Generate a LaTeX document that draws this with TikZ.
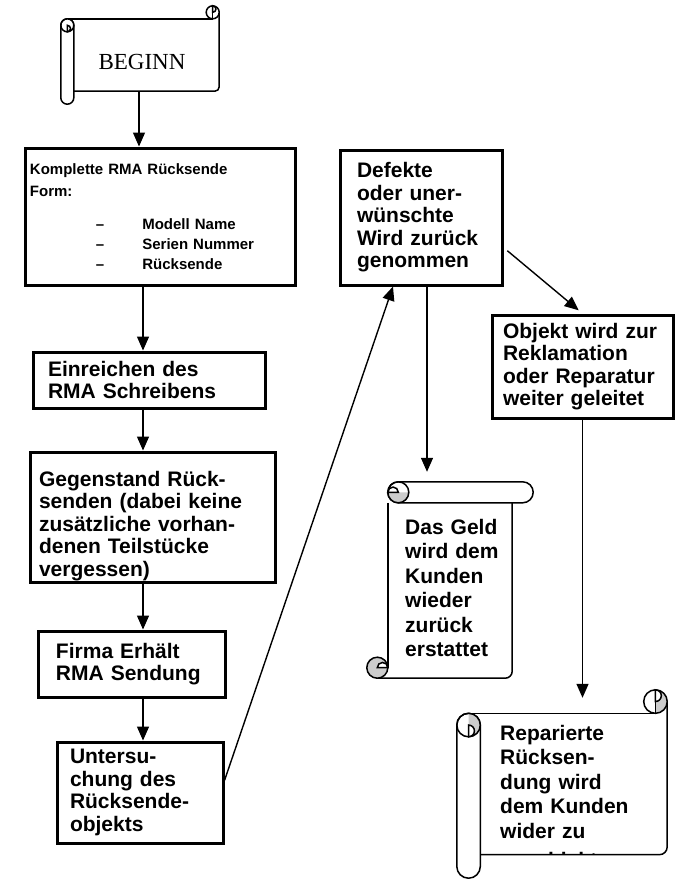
\documentclass[tikz,border=0pt]{standalone}
\usepackage{fontspec}
\setmainfont{Liberation Serif}
\setsansfont{Liberation Sans}
\usetikzlibrary{arrows.meta,calc}
\definecolor{curlgray}{HTML}{CCCCCC}

\tikzset{
  box/.style={draw, line width=3pt, rectangle, inner sep=0pt, align=left,
    font=\sffamily\bfseries\fontsize{21}{22.5}\selectfont},
  arr/.style={line width=1.4pt, -{Triangle[width=12pt,length=14pt]}},
  scrollbox/.style={rectangle, inner sep=0pt},
  scrollline/.style={line width=1.5pt},
  scrolltxt/.style={anchor=north west, inner sep=0pt, align=left,
    font=\sffamily\bfseries\fontsize{21}{24.4}\selectfont},
}

% scroll with a roll on the left and a curl top right
\newcommand{\hscroll}[3]{%
  \pgfmathsetmacro{\scC}{#2}
  \pgfmathsetmacro{\scH}{#2/2}
  \pgfmathsetmacro{\scQ}{#2/4}
  \pgfmathsetmacro{\scR}{#2/3}
  \coordinate (#1-nw) at (#1.north west);
  \coordinate (#1-se) at (#1.south east);
  \fill[white] ($(#1-nw)+(\scH,-\scC)$) rectangle ($(#1-se)+(0,\scC)$);
  \draw[scrollline] ($(#1-nw)+(\scH,-\scC)$) -- ($(#1.north east)+(-\scH,-\scC)$);
  \draw[scrollline, rounded corners=\scR pt] ($(#1.north east)+(0,-\scH)$)
    -- ($(#1-se)+(0,\scC)$) -- ($(#1.south west)+(\scC,\scC)$);
  % curl
  \coordinate (#1-cr) at ($(#1.north east)+(-\scH,-\scH)$);
  \fill[white] (#1-cr) circle (\scH pt);
  \fill[#3] ($(#1-cr)+(0,\scH)$) arc (90:-90:\scH pt) -- cycle;
  \draw[scrollline, fill=white] ($(#1-cr)+(0,\scH)$) arc (90:-90:\scQ pt) -- cycle;
  \draw[scrollline] (#1-cr) circle (\scH pt);
  \draw[scrollline] (#1-cr) -- ++(0,-\scH);
  % roll
  \draw[scrollline, fill=white, rounded corners=\scH pt] (#1.south west)
    rectangle ($(#1-nw)+(\scC,-\scC)$);
  \coordinate (#1-cl) at ($(#1-nw)+(\scH,-\scC-\scH)$);
  \fill[#3] ($(#1-cl)+(0,\scH)$) arc (90:-90:\scH pt) -- cycle;
  \draw[scrollline, fill=white] ($(#1-cl)+(0,-\scH)$) arc (-90:90:\scQ pt) -- cycle;
  \draw[scrollline] (#1-cl) circle (\scH pt);
}

% scroll with a roll on top and a curl bottom left
\newcommand{\vscroll}[3]{%
  \pgfmathsetmacro{\scC}{#2}
  \pgfmathsetmacro{\scH}{#2/2}
  \pgfmathsetmacro{\scQ}{#2/4}
  \pgfmathsetmacro{\scR}{#2/3}
  \coordinate (#1-nw) at (#1.north west);
  \coordinate (#1-se) at (#1.south east);
  \fill[white] ($(#1-nw)+(\scC,-\scH)$) rectangle ($(#1-se)+(-\scC,0)$);
  \draw[scrollline] ($(#1-nw)+(\scC,-\scC)$) -- ($(#1.south west)+(\scC,\scH)$);
  \draw[scrollline, rounded corners=\scR pt] ($(#1.north east)+(-\scC,-\scC)$)
    -- ($(#1-se)+(-\scC,0)$) -- ($(#1.south west)+(\scH,0)$);
  % roll
  \draw[scrollline, fill=white, rounded corners=\scH pt] ($(#1-nw)+(\scC,0)$)
    rectangle ($(#1.north east)+(0,-\scC)$);
  \coordinate (#1-ct) at ($(#1-nw)+(\scC+\scH,-\scH)$);
  \fill[#3] ($(#1-ct)+(-\scH,0)$) arc (180:360:\scH pt) -- cycle;
  \draw[scrollline, fill=white] ($(#1-ct)+(-\scH,0)$) arc (180:0:\scQ pt) -- cycle;
  \draw[scrollline] (#1-ct) circle (\scH pt);
  % curl
  \coordinate (#1-cb) at ($(#1.south west)+(\scH,\scH)$);
  \draw[scrollline, fill=#3] (#1-cb) circle (\scH pt);
  \draw[scrollline, fill=white] (#1-cb) arc (180:0:\scQ pt) -- cycle;
}

\begin{document}
\begin{tikzpicture}[x=1pt,y=1pt]
\useasboundingbox (0,0) rectangle (676,-879);
\coordinate (spine) at (143,0);
\coordinate (spinetop) at (139,0);

% start
\node[scrollbox, minimum width=158pt, minimum height=98pt] (beginn) at (140,-55) {};
\hscroll{beginn}{13}{white}
\node[font=\rmfamily\fontsize{23}{28}\selectfont] (beginntxt) at (142,-62) {BEGINN};

% left column
\node[box, minimum width=270pt, minimum height=137pt, text width=260pt,
  font=\sffamily\bfseries\fontsize{15}{22}\selectfont] (kompl) at (160,-216.5)
  {Komplette RMA Rücksende\\Form:\\[11pt]
   \hspace*{66pt}–\hspace*{38pt}Modell Name\\[-2pt]
   \hspace*{66pt}–\hspace*{38pt}Serien Nummer\\[-2pt]
   \hspace*{66pt}–\hspace*{38pt}Rücksende};
\node[box, minimum width=232pt, minimum height=56pt, text width=202pt] (einr) at (149,-380)
  {Einreichen des\\RMA Schreibens};
\node[box, minimum width=245pt, minimum height=130pt, text width=227pt] (gegen) at (152.5,-517)
  {\rule{0pt}{33pt}Gegenstand Rück-\\senden (dabei keine\\zusätzliche vorhan-\\denen Teilstücke\\vergessen)};
\node[box, minimum width=187pt, minimum height=66pt, text width=151pt] (firma) at (131.5,-664)
  {Firma Erhält\\RMA Sendung};
\node[box, minimum width=166pt, minimum height=101pt, text width=140pt] (unters) at (140,-792.5)
  {Untersu-\\chung des\\Rücksende-\\objekts};

% right part
\node[box, minimum width=162pt, minimum height=135pt, text width=128pt] (defekte) at (421,-217.5)
  {Defekte\\oder uner-\\wünschte\\Wird zurück\\genommen};
\node[box, minimum width=181pt, minimum height=103pt, text width=159pt] (objekt) at (582.5,-366.5)
  {Objekt wird zur\\Reklamation\\oder Reparatur\\weiter geleitet};

\node[scrollbox, minimum width=166pt, minimum height=196pt] (geld) at (450,-580) {};
\vscroll{geld}{21}{curlgray}
\node[scrolltxt, text width=100pt] (geldtxt) at (405,-519)
  {Das Geld\\wird dem\\Kunden\\wieder\\zurück\\erstattet};

\node[scrollbox, minimum width=210pt, minimum height=188pt] (rep) at (562,-784) {};
\hscroll{rep}{23.5}{curlgray}
\begin{scope}
  \clip ($(rep.north west)+(23.5,0)$) rectangle ($(rep.south east)+(0,23.5)$);
  \node[scrolltxt, text width=150pt] (reptxt) at (500,-725)
    {Reparierte\\Rücksen-\\dung wird\\dem Kunden\\wider zu\\[5pt]geschickt};
\end{scope}

% connectors
\draw[arr] (beginn.south -| spinetop) ++(0,13) -- (kompl.north -| spinetop);
\draw[arr] (kompl.south -| spine) -- (einr.north -| spine);
\draw[arr] (einr.south -| spine) -- (gegen.north -| spine);
\draw[arr] (gegen.south -| spine) -- (firma.north -| spine);
\draw[arr] (firma.south -| spine) -- (unters.north -| spine);
\draw[arr] ([yshift=12pt]unters.east) -- ([xshift=-28pt]defekte.south);
\draw[arr, shorten >=10pt] ([xshift=6pt]defekte.south) -- ([xshift=6pt]defekte.south |- geld.north);
\draw[arr, shorten <=5pt, shorten >=5pt] ([yshift=-30pt]defekte.east) -- (objekt.north);
\draw[arr] (objekt.south) -- ([yshift=-8pt]objekt.south |- rep.north);
\end{tikzpicture}
\end{document}
